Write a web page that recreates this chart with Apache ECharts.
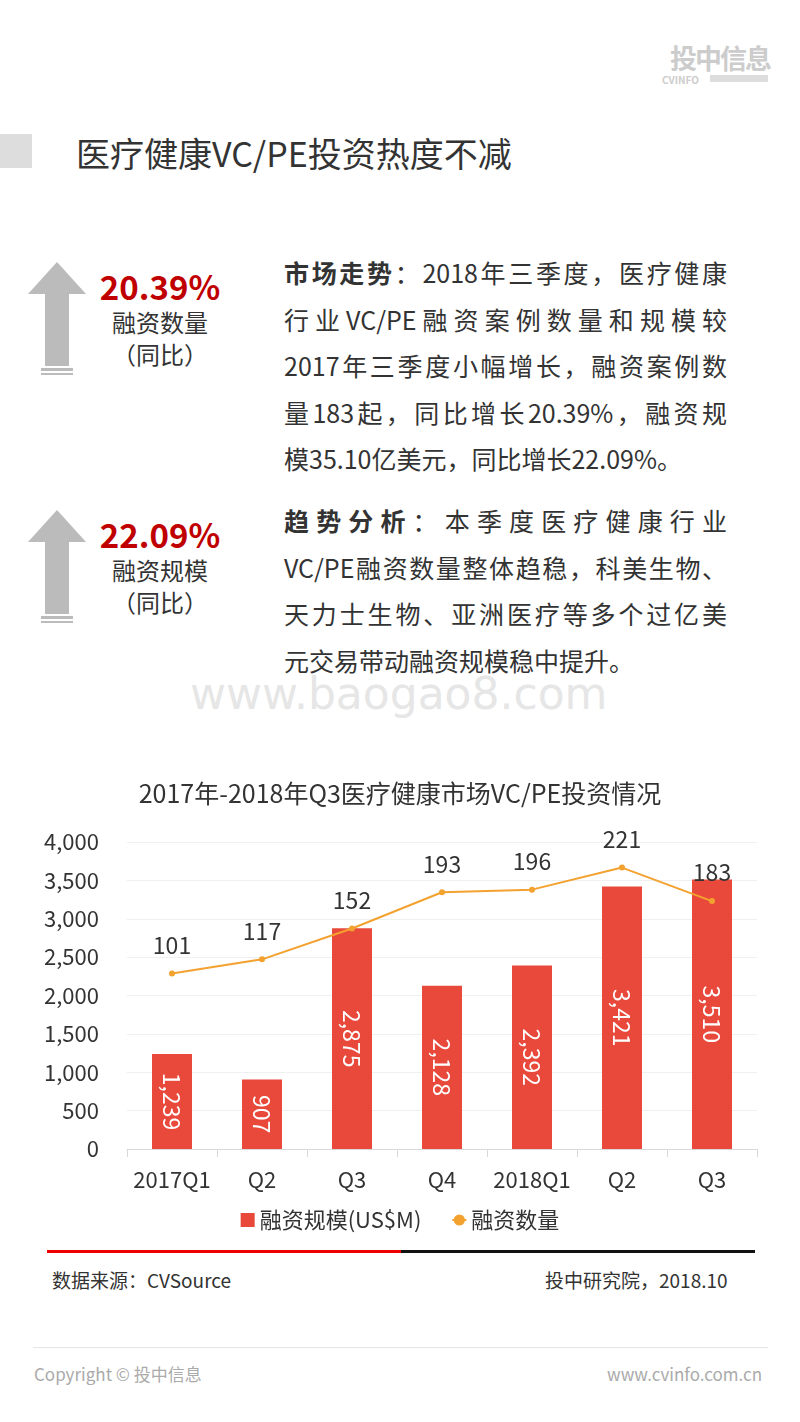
<!DOCTYPE html>
<html><head><meta charset="utf-8">
<script src="https://cdn.jsdelivr.net/npm/echarts@6/dist/echarts.min.js"></script>
<style>
body{margin:0;width:800px;height:1422px;background:#fff;font-family:"Noto Sans CJK SC","Noto Sans",sans-serif;color:#333;position:relative;overflow:hidden}
.abs{position:absolute}
.para{left:284px;width:443px;font-size:25px;line-height:46.5px;color:#333}
.para div{text-align:justify;text-align-last:justify;white-space:nowrap}
.para div.l{text-align-last:left}
.big{color:#c00000;font-weight:bold;font-size:33px;width:150px;text-align:center;left:85px}
.sub{font-size:24px;width:140px;text-align:center;left:90px;line-height:32px;color:#333}
</style></head><body>
<div class="abs" style="left:650px;top:38px;width:120px;text-align:right;color:#ccc;font-weight:bold;font-size:27px;white-space:nowrap;letter-spacing:-2px">投中信息</div>
<div class="abs" style="left:662px;top:72px;font-size:10px;color:#ccc;font-weight:bold">CVINFO</div>
<div class="abs" style="left:710px;top:75px;width:58px;height:7px;background:#ddd"></div>
<div class="abs" style="left:0;top:134px;width:32px;height:34px;background:#ddd"></div>
<div class="abs" style="left:76px;top:128px;font-size:34px;color:#333">医疗健康VC/PE投资热度不减</div>

<svg class="abs" style="left:26px;top:260px" width="62" height="120"><polygon points="31,2 60,34 43,34 43,106 19,106 19,34 2,34" fill="#bbb"/><rect x="15" y="108" width="32" height="3" fill="#bbb"/><rect x="15" y="113" width="32" height="2" fill="#bbb"/></svg>
<svg class="abs" style="left:26px;top:508px" width="62" height="120"><polygon points="31,2 60,34 43,34 43,106 19,106 19,34 2,34" fill="#bbb"/><rect x="15" y="108" width="32" height="3" fill="#bbb"/><rect x="15" y="113" width="32" height="2" fill="#bbb"/></svg>
<div class="abs big" style="top:262px">20.39%</div>
<div class="abs sub" style="top:306px">融资数量<br>（同比）</div>
<div class="abs big" style="top:510px">22.09%</div>
<div class="abs sub" style="top:554px">融资规模<br>（同比）</div>

<div class="abs para" style="top:249px">
<div><b>市场走势</b>：2018年三季度，医疗健康</div>
<div>行业VC/PE融资案例数量和规模较</div>
<div>2017年三季度小幅增长，融资案例数</div>
<div>量183起，同比增长20.39%，融资规</div>
<div class="l">模35.10亿美元，同比增长22.09%。</div>
</div>
<div class="abs para" style="top:497px">
<div><b>趋势分析</b>：本季度医疗健康行业</div>
<div>VC/PE融资数量整体趋稳，科美生物、</div>
<div>天力士生物、亚洲医疗等多个过亿美</div>
<div class="l">元交易带动融资规模稳中提升。</div>
</div>
<div class="abs" style="left:190px;top:668px;font-size:44px;color:#e6e6e6;font-family:'DejaVu Sans'">www.baogao8.com</div>

<div id="chart" class="abs" style="left:0;top:770px;width:800px;height:470px"></div>

<div class="abs" style="left:47px;top:1250px;width:354px;height:3px;background:#e00"></div>
<div class="abs" style="left:401px;top:1250px;width:354px;height:3px;background:#111"></div>
<div class="abs" style="left:52px;top:1266px;font-size:19px">数据来源：CVSource</div>
<div class="abs" style="left:545px;top:1266px;font-size:19px">投中研究院，2018.10</div>
<div class="abs" style="left:33px;top:1347px;width:735px;height:1px;background:#e6e6e6"></div>
<div class="abs" style="left:34px;top:1361px;font-size:17px;color:#aaa">Copyright © 投中信息</div>
<div class="abs" style="left:607px;top:1361px;font-size:17px;color:#aaa">www.cvinfo.com.cn</div>

<script>
var categories = ['2017Q1', 'Q2', 'Q3', 'Q4', '2018Q1', 'Q2', 'Q3'];
var amount = [1239, 907, 2875, 2128, 2392, 3421, 3510];
var count = [101, 117, 152, 193, 196, 221, 183];

var myChart = echarts.init(document.getElementById('chart'));
var option = {
    animation: false,
    textStyle: {fontFamily: 'Noto Sans CJK SC'},
    title: {
        text: '2017年-2018年Q3医疗健康市场VC/PE投资情况',
        left: 'center', top: 6,
        textStyle: {fontSize: 25, fontWeight: 'normal', color: '#333', fontFamily: 'Noto Sans CJK SC'}
    },
    legend: {
        bottom: 4, itemGap: 30, itemWidth: 14, itemHeight: 14,
        textStyle: {fontSize: 22, color: '#333'},
        data: [{name: '融资规模(US$M)', icon: 'rect'}, {name: '融资数量'}]
    },
    grid: {left: 127, right: 43, top: 72, bottom: 91},
    xAxis: {
        type: 'category', data: categories,
        axisLine: {lineStyle: {color: '#d9d9d9'}},
        axisTick: {show: true, length: 8, lineStyle: {color: '#d9d9d9'}},
        axisLabel: {interval: 0, fontSize: 22, color: '#333', margin: 20}
    },
    yAxis: [{
        type: 'value', min: 0, max: 4000, interval: 500,
        axisLabel: {fontSize: 22, color: '#333', margin: 28,
            formatter: function (v) { return v.toLocaleString('en-US'); }},
        splitLine: {lineStyle: {color: '#f0f0f0'}}
    }, {
        type: 'value', min: -98, max: 250, show: false, splitLine: {show: false}
    }],
    series: [{
        name: '融资规模(US$M)', type: 'bar', data: amount, barWidth: 40,
        itemStyle: {color: '#e8493a'},
        label: {show: true, position: 'inside', rotate: -90,
            color: '#fff', fontSize: 23,
            formatter: function (p) { return p.value.toLocaleString('en-US'); }}
    }, {
        name: '融资数量', type: 'line', yAxisIndex: 1, data: count,
        symbol: 'circle', symbolSize: 6,
        lineStyle: {color: '#f3a12f', width: 2}, itemStyle: {color: '#f3a12f'},
        label: {show: true, position: 'top', distance: 14, fontSize: 23, color: '#333'}
    }]
};
myChart.setOption(option);
</script>
</body></html>
